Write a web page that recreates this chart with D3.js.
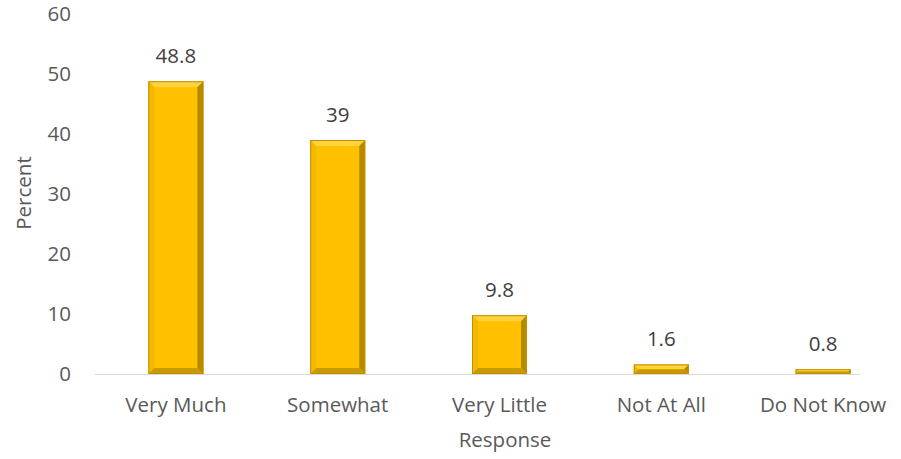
<!DOCTYPE html>
<html><head><meta charset="utf-8">
<script src="https://cdn.jsdelivr.net/npm/d3@7"></script>
<style>body{margin:0;background:#fff}text{font-family:"Open Sans",sans-serif}</style>
</head><body><svg id="c" width="901" height="459"></svg>
<script>
const categories = ["Very Much","Somewhat","Very Little","Not At All","Do Not Know"];
const values = [48.8, 39, 9.8, 1.6, 0.8];
const labels = ["48.8","39","9.8","1.6","0.8"];
const yTicks = [0,10,20,30,40,50,60];

const svg = d3.select("#c");
const x = d3.scaleBand().domain(categories).range([95, 904]).paddingInner(0.66).paddingOuter(0.33);
const y = d3.scaleLinear().domain([0,60]).range([374,14]);
const txt = "#595959";
const fs = 20.5;

svg.selectAll(".yt").data(yTicks).enter().append("text")
  .attr("x", 71).attr("y", d=>y(d)).attr("dy","0.36em").attr("text-anchor","end")
  .attr("font-size",fs).attr("fill",txt).text(d=>d);

svg.append("line").attr("x1",95).attr("x2",860).attr("y1",y(0)+0.5).attr("y2",y(0)+0.5)
  .attr("stroke","#d9d9d9").attr("stroke-width",1);

const g = svg.append("g");
categories.forEach((c,i)=>{
  const x0 = x(c), w = x.bandwidth(), y0 = y(values[i]), y1 = y(0), h = y1-y0;
  const b = Math.min(6, h/2, w/2);
  const gg = g.append("g");
  gg.append("rect").attr("x",x0).attr("y",y0).attr("width",w).attr("height",h).attr("fill","#FFC000");
  const poly = (pts,fill)=>gg.append("polygon").attr("points",pts.map(p=>p.join(",")).join(" ")).attr("fill",fill);
  poly([[x0,y0],[x0+w,y0],[x0+w-b,y0+b],[x0+b,y0+b]],"#FFD23F");
  poly([[x0,y0],[x0+b,y0+b],[x0+b,y1-b],[x0,y1]],"#F5B800");
  poly([[x0+w,y0],[x0+w,y1],[x0+w-b,y1-b],[x0+w-b,y0+b]],"#B58A00");
  poly([[x0,y1],[x0+w,y1],[x0+w-b,y1-b],[x0+b,y1-b]],"#C99A00");
  gg.append("rect").attr("x",x0+0.5).attr("y",y0+0.5).attr("width",w-1).attr("height",Math.max(0,h-1))
    .attr("fill","none").attr("stroke","#BF9000").attr("stroke-width",1);
  svg.append("text").attr("x",x0+w/2).attr("y",y0-18).attr("text-anchor","middle")
    .attr("font-size",fs).attr("fill","#404040").text(labels[i]);
});

svg.selectAll(".xt").data(categories).enter().append("text")
  .attr("x",d=>x(d)+x.bandwidth()/2).attr("y",412).attr("text-anchor","middle")
  .attr("font-size",fs).attr("fill",txt).text(d=>d);

svg.append("text").attr("x",505).attr("y",447).attr("text-anchor","middle")
  .attr("font-size",fs).attr("fill",txt).text("Response");
svg.append("text").attr("transform","translate(31,193) rotate(-90)").attr("text-anchor","middle")
  .attr("font-size",fs).attr("fill",txt).text("Percent");
</script></body></html>
